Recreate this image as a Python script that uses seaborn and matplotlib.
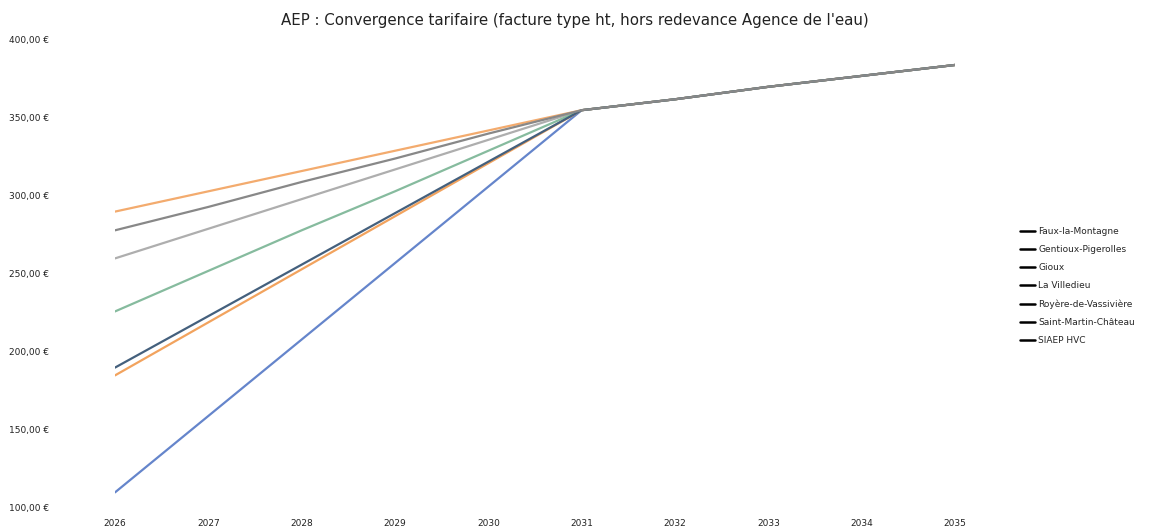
import matplotlib
matplotlib.use("Agg")
import matplotlib.pyplot as plt
import matplotlib.ticker as mticker
import pandas as pd
import seaborn as sns

years = [2026, 2027, 2028, 2029, 2030, 2031, 2032, 2033, 2034, 2035]

communes = [
  "Faux-la-Montagne",
  "Gentioux-Pigerolles",
  "Gioux",
  "La Villedieu",
  "Royère-de-Vassivière",
  "Saint-Martin-Château",
  "SIAEP HVC",
]

# facture type (EUR HT)
faux = [110, 159, 208, 257, 306, 355, 362, 370, 377, 384]
gentioux = [185, 219, 253, 287, 321, 355, 362, 370, 377, 384]
gioux = [260, 279, 298, 317, 336, 355, 362, 370, 377, 384]
villedieu = [290, 303, 316, 329, 342, 355, 362, 370, 377, 384]
royere = [226, 252, 278, 303, 329, 355, 362, 370, 377, 384]
saint_martin = [190, 223, 256, 289, 322, 355, 362, 370, 377, 384]
siaep = [278, 293, 309, 324, 340, 355, 362, 370, 377, 384]

colors = ["#6585CB", "#F2A35E", "#AEAEAE", "#F3AB6E", "#86BB9E", "#44607D", "#888888"]

series = [faux, gentioux, gioux, villedieu, royere, saint_martin, siaep]
rows = []
for name, values in zip(communes, series):
  for year, value in zip(years, values):
    rows.append({"annee": year, "facture": value, "commune": name})
df = pd.DataFrame(rows)

sns.set_theme(style="white")
plt.rcParams["font.family"] = ["DejaVu Sans"]

fig = plt.figure(figsize=(11.49, 5.27), dpi=100)
ax = fig.add_axes([115 / 1149, 19 / 527, (955 - 115) / 1149, (508 - 40) / 527])

sns.lineplot(
  data=df,
  x="annee",
  y="facture",
  hue="commune",
  hue_order=communes,
  palette=colors,
  linewidth=1.6,
  ax=ax,
)

ax.set_xlim(2026, 2035)
ax.set_ylim(100, 400)
ax.set_xticks(years)
ax.set_yticks([100, 150, 200, 250, 300, 350, 400])
ax.yaxis.set_major_formatter(mticker.FuncFormatter(lambda v, _: f"{v:.0f},00 €"))
ax.tick_params(axis="both", labelsize=6.5, length=0, colors="#222222")
ax.tick_params(axis="y", pad=76)
for lbl in ax.get_yticklabels():
  lbl.set_horizontalalignment("left")
ax.tick_params(axis="x", pad=8)
ax.set_xlabel("")
ax.set_ylabel("")
for spine in ax.spines.values():
  spine.set_visible(False)

fig.suptitle(
  "AEP : Convergence tarifaire (facture type ht, hors redevance Agence de l'eau)",
  x=0.5, y=0.975, fontsize=10.8, color="#222222",
)

leg = ax.legend(
  loc="upper left",
  bbox_to_anchor=(1012 / 1149, (527 - 219) / 527),
  bbox_transform=fig.transFigure,
  frameon=False,
  fontsize=6.5,
  handlelength=1.7,
  handletextpad=0.3,
  labelspacing=1.0,
)
for line in leg.get_lines():
  line.set_color("black")
  line.set_linewidth(1.8)

fig.savefig("out.png", dpi=100)
